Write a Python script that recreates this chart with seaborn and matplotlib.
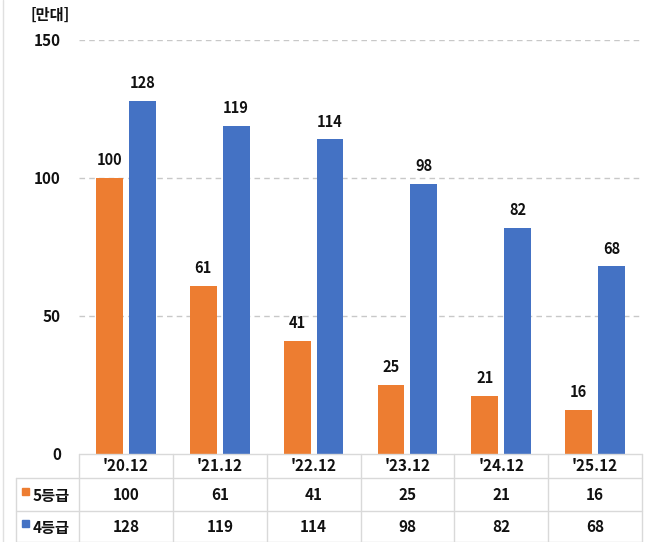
import matplotlib
matplotlib.use("Agg")
import matplotlib.pyplot as plt
import seaborn as sns
import pandas as pd

categories = ["'20.12", "'21.12", "'22.12", "'23.12", "'24.12", "'25.12"]
grade5 = [100, 61, 41, 25, 21, 16]
grade4 = [128, 119, 114, 98, 82, 68]
series_names = ["5등급", "4등급"]
colors = ["#ED7D31", "#4472C4"]
yticks = [0, 50, 100, 150]
unit_label = "[만대]"

sns.set_theme(style="white")
plt.rcParams['font.family'] = ['Noto Sans CJK KR', 'DejaVu Sans']

df = pd.DataFrame({
    "cat": categories * 2,
    "val": grade5 + grade4,
    "series": [series_names[0]] * len(categories) + [series_names[1]] * len(categories),
})

fig = plt.figure(figsize=(6.5, 5.42), dpi=100)
ax = fig.add_axes([79/650, 88/542, (642-79)/650, 414/542])

sns.barplot(data=df, x="cat", y="val", hue="series", palette=colors,
            width=0.70, gap=0.18, ax=ax, legend=False, saturation=1, linewidth=0)

ax.set_xlim(-0.5, len(categories) - 0.5)
ax.set_ylim(0, 150)
ax.set_yticks(yticks)
ax.set_yticklabels([str(t) for t in yticks], fontsize=11, fontweight='bold', color='#111111')
ax.tick_params(axis='y', length=0, pad=13)
ax.set_xticks([])
ax.set_xlabel("")
ax.set_ylabel("")
for s in ax.spines.values():
    s.set_visible(False)
for t in yticks[1:]:
    ax.axhline(t, color='#c8c8c8', lw=1, ls=(0, (4, 3)), zorder=0)

for cont in ax.containers:
    ax.bar_label(cont, padding=7, fontsize=10.5, fontweight='bold', color='#111111')

# Data table below
tr = ax.get_xaxis_transform()
px = 414.0
def yf(p):
    return (454 - p) / px

line_c = '#d9d9d9'
n = len(categories)
left_x = -0.5 - (79 - 16) / (563 / n)
ax.plot([-0.5, n - 0.5], [0, 0], color=line_c, lw=1, transform=tr, clip_on=False)
for yy in [478, 511, 541.5]:
    ax.plot([left_x, n - 0.5], [yf(yy), yf(yy)], color=line_c, lw=1, transform=tr, clip_on=False)
for i in range(n + 1):
    ax.plot([i - 0.5, i - 0.5], [0, yf(542)], color=line_c, lw=1, transform=tr, clip_on=False)
ax.plot([left_x, left_x], [yf(478), yf(542)], color=line_c, lw=1, transform=tr, clip_on=False)

for i, c in enumerate(categories):
    ax.text(i, yf(466), c, transform=tr, ha='center', va='center',
            fontsize=11, fontweight='bold', color='#111111')
    ax.text(i, yf(494.5), str(grade5[i]), transform=tr, ha='center', va='center',
            fontsize=11, fontweight='bold', color='#111111')
    ax.text(i, yf(526.5), str(grade4[i]), transform=tr, ha='center', va='center',
            fontsize=11, fontweight='bold', color='#111111')

for yy, name, col in [(494.5, series_names[0], colors[0]), (526.5, series_names[1], colors[1])]:
    fig.patches.append(plt.Rectangle((22/650, (542 - yy + 0) / 542), 7/650, 7/542,
                                     transform=fig.transFigure, color=col))
    fig.text(33/650, (542 - yy - 1) / 542, name, ha='left', va='center',
             fontsize=11, fontweight='bold', color='#111111')

fig.text(50/650, (542 - 15) / 542, unit_label, ha='center', va='center',
         fontsize=11, fontweight='bold', color='#111111')
fig.add_artist(plt.Line2D([3/650, 3/650], [0, 1], color='#e0e0e0', lw=1, transform=fig.transFigure))

fig.savefig("out.png", dpi=100)
